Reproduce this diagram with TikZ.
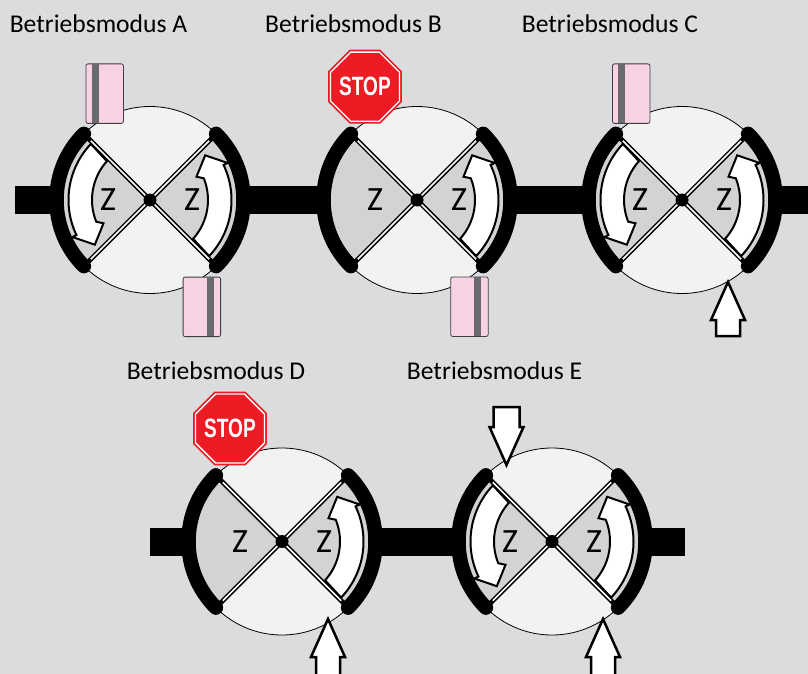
\documentclass[tikz,border=0pt]{standalone}
\usepackage{fontspec}
\setmainfont{Carlito}
\newfontfamily\stopfont{Liberation Sans}
\definecolor{bg}{RGB}{219,220,222}
\definecolor{disc}{RGB}{241,243,242}
\definecolor{wedge}{RGB}{209,211,212}
\definecolor{cardpink}{RGB}{248,210,228}
\definecolor{stripe}{RGB}{105,106,109}
\definecolor{stopred}{RGB}{237,28,36}
\tikzset{
  titletext/.style={font=\fontsize{25.6}{26}\selectfont,inner sep=0pt,anchor=center},
  ztext/.style={font=\fontsize{34}{34}\selectfont,inner sep=0pt},
  discshape/.style={fill=disc,draw=black,line width=0.8pt},
  wedgeshape/.style={fill=wedge},
  seat/.style={line width=14.5pt,line cap=round,draw=black},
  flowarrow/.style={fill=white,draw=black,line width=2pt,line join=miter},
  bigarrow/.style={fill=white,draw=black,line width=2.5pt,line join=miter},
  pipe/.style={fill=black},
  cardbody/.style={fill=cardpink,draw=black!75,line width=0.8pt,rounded corners=2pt},
  cardstripe/.style={fill=stripe}
}
% valve: name, x, y
\newcommand{\valvebase}[3]{%
  \coordinate (#1) at (#2,#3);
  \begin{scope}[shift={(#2,#3)},x=1pt,y=1pt]
    \filldraw[discshape] (0,0) circle[radius=93.5];
    \fill[wedgeshape] (0,0) -- (45:88) arc[start angle=45,end angle=-45,radius=88] -- cycle;
    \fill[wedgeshape] (0,0) -- (135:88) arc[start angle=135,end angle=225,radius=88] -- cycle;
  \end{scope}}
\newcommand{\valvetop}[3]{%
  \begin{scope}[shift={(#2,#3)},x=1pt,y=1pt]
    \foreach \a in {45,135,225,315}{
      \draw[black,line width=4.6pt] (0,0) -- (\a:87);
      \draw[white,line width=1.5pt] (0,0) -- (\a:84);
      \fill[black] (\a:86) circle[radius=2.3];
    }
    \draw[seat] (135:93.5) arc[start angle=135,end angle=225,radius=93.5];
    \draw[seat] (45:93.5) arc[start angle=45,end angle=-45,radius=93.5];
    \fill[black] (0,0) circle[radius=6.5];
    \node[ztext] (#1zl) at (-42,0) {Z};
    \node[ztext] (#1zr) at (42,0) {Z};
  \end{scope}}
% flow arrow in the right wedge, or (angle 180) in the left wedge
\newcommand{\flowat}[3]{%
  \begin{scope}[shift={(#1,#2)},x=1pt,y=1pt,rotate=#3]
    \draw[flowarrow] (-42:58) arc[start angle=-42,end angle=22,radius=58]
      -- (26.6:52) -- (39:71) -- (25.5:86) -- (25.5:81.5)
      arc[start angle=25.5,end angle=-43.5,radius=81.5] -- cycle;
  \end{scope}}
% card: name, left, top, stripe left
\newcommand{\card}[4]{%
  \node[cardbody,minimum width=37.5pt,minimum height=59.5pt,inner sep=0pt,anchor=north west] (#1) at (#2,#3) {};
  \fill[cardstripe] (#4,#3+0.4) rectangle (#4+7,#3+59.1);
}
% stop sign: name, centre x, centre y
\newcommand{\stopsign}[3]{%
  \begin{scope}[shift={(#2,#3)},x=1pt,y=1pt]
    \fill[stopred] (22.5:40) -- (67.5:40) -- (112.5:40) -- (157.5:40) -- (202.5:40) -- (247.5:40) -- (292.5:40) -- (337.5:40) -- cycle;
    \draw[white,line width=1.3pt,line join=miter] (22.5:37.4) -- (67.5:37.4) -- (112.5:37.4) -- (157.5:37.4) -- (202.5:37.4) -- (247.5:37.4) -- (292.5:37.4) -- (337.5:37.4) -- cycle;
    \node[text=white,inner sep=0pt] (#1) at (0,0) {\scalebox{0.72}[1]{\stopfont\bfseries\fontsize{26.5}{27}\selectfont STOP}};
  \end{scope}}
% arrows: up: tip x, tip y, bottom y ; down: tip x, tip y, top y
\newcommand{\bigup}[3]{%
  \draw[bigarrow] (#1,#2) -- (#1+17,#2+38) -- (#1+12,#2+38) -- (#1+12,#3) -- (#1-12,#3) -- (#1-12,#2+38) -- (#1-17,#2+38) -- cycle;}
\newcommand{\bigdown}[3]{%
  \draw[bigarrow] (#1,#2) -- (#1+17,#2-38) -- (#1+13,#2-38) -- (#1+13,#3) -- (#1-13,#3) -- (#1-13,#2-38) -- (#1-17,#2-38) -- cycle;}
\begin{document}
\begin{tikzpicture}[x=1pt,y=-1pt]
  \useasboundingbox (0,0) rectangle (808,674);
  \clip (0,0) rectangle (808,674);
  \fill[bg] (0,0) rectangle (808,674);
  % pipes
  \fill[pipe] (15,186) rectangle (808,214);
  \fill[pipe] (150,527.5) rectangle (685,555.5);
  % valves
  \valvebase{A}{150}{200}
  \valvebase{B}{417}{200}
  \valvebase{C}{682}{200}
  \valvebase{D}{282}{541.5}
  \valvebase{E}{552}{541.5}
  \valvetop{A}{150}{200}
  \valvetop{B}{417}{200}
  \valvetop{C}{682}{200}
  \valvetop{D}{282}{541.5}
  \valvetop{E}{552}{541.5}
  % flow arrows
  \flowat{150}{200}{0}\flowat{150}{200}{180}
  \flowat{417}{200}{0}
  \flowat{682}{200}{0}\flowat{682}{200}{180}
  \flowat{282}{541.5}{0}
  \flowat{552}{541.5}{0}\flowat{552}{541.5}{180}
  % cards
  \card{cardA1}{85.5}{63.5}{92}
  \card{cardA2}{182.7}{276.7}{206.7}
  \card{cardB}{450.3}{276.5}{474}
  \card{cardC}{612}{63.5}{618}
  % stop signs
  \stopsign{stopB}{365}{86.7}
  \stopsign{stopD}{230}{428.5}
  % large arrows
  \bigup{728}{282}{336}
  \bigup{328}{619}{690}
  \bigup{603}{619}{690}
  \bigdown{506.5}{465}{407}
  % titles
  \node[titletext] (tA) at (98.5,24) {Betriebsmodus A};
  \node[titletext] (tB) at (353.5,24) {Betriebsmodus B};
  \node[titletext] (tC) at (610,24) {Betriebsmodus C};
  \node[titletext] (tD) at (216,371) {Betriebsmodus D};
  \node[titletext] (tE) at (494.5,371) {Betriebsmodus E};
\end{tikzpicture}
\end{document}
